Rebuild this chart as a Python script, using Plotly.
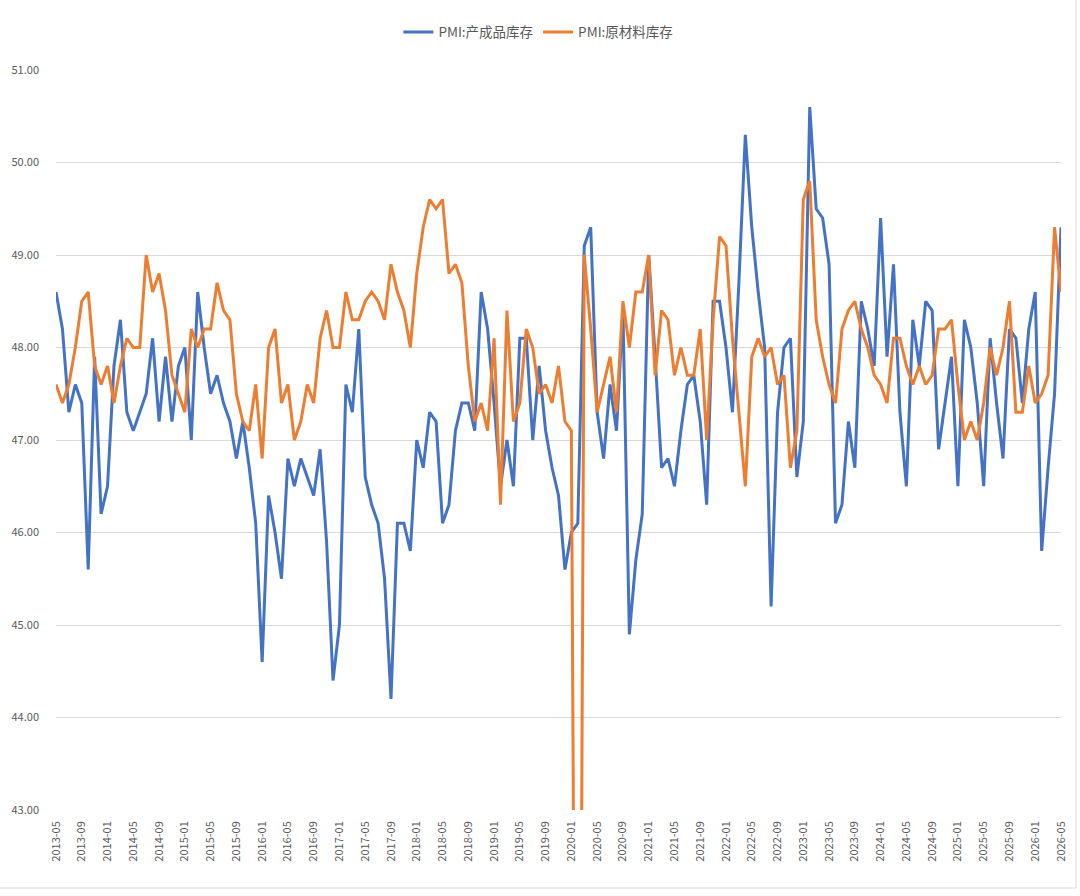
import plotly.graph_objects as go

months = []
y, m = 2013, 5
for _ in range(157):
    months.append(f"{y}-{m:02d}")
    m += 1
    if m > 12:
        m = 1
        y += 1

finished_goods = [
    48.6, 48.2, 47.3, 47.6, 47.4, 45.6, 47.9, 46.2, 46.5, 47.8, 48.3, 47.3, 47.1, 47.3, 47.5, 48.1,
    47.2, 47.9, 47.2, 47.8, 48.0, 47.0, 48.6, 48.0, 47.5, 47.7, 47.4, 47.2, 46.8, 47.2, 46.7, 46.1,
    44.6, 46.4, 46.0, 45.5, 46.8, 46.5, 46.8, 46.6, 46.4, 46.9, 45.9, 44.4, 45.0, 47.6, 47.3, 48.2,
    46.6, 46.3, 46.1, 45.5, 44.2, 46.1, 46.1, 45.8, 47.0, 46.7, 47.3, 47.2, 46.1, 46.3, 47.1, 47.4,
    47.4, 47.1, 48.6, 48.2, 47.4, 46.5, 47.0, 46.5, 48.1, 48.1, 47.0, 47.8, 47.1, 46.7, 46.4, 45.6,
    46.0, 46.1, 49.1, 49.3, 47.3, 46.8, 47.6, 47.1, 48.4, 44.9, 45.7, 46.2, 49.0, 47.9, 46.7, 46.8,
    46.5, 47.1, 47.6, 47.7, 47.2, 46.3, 48.5, 48.5, 48.0, 47.3, 48.7, 50.3, 49.3, 48.6, 48.0, 45.2,
    47.3, 48.0, 48.1, 46.6, 47.2, 50.6, 49.5, 49.4, 48.9, 46.1, 46.3, 47.2, 46.7, 48.5, 48.2, 47.8,
    49.4, 47.9, 48.9, 47.3, 46.5, 48.3, 47.8, 48.5, 48.4, 46.9, 47.4, 47.9, 46.5, 48.3, 48.0, 47.4,
    46.5, 48.1, 47.4, 46.8, 48.2, 48.1, 47.4, 48.2, 48.6, 45.8, 46.7, 47.5, 49.3,
]

raw_materials = [
    47.6, 47.4, 47.6, 48.0, 48.5, 48.6, 47.8, 47.6, 47.8, 47.4, 47.8, 48.1, 48.0, 48.0, 49.0, 48.6,
    48.8, 48.4, 47.7, 47.5, 47.3, 48.2, 48.0, 48.2, 48.2, 48.7, 48.4, 48.3, 47.5, 47.2, 47.1, 47.6,
    46.8, 48.0, 48.2, 47.4, 47.6, 47.0, 47.2, 47.6, 47.4, 48.1, 48.4, 48.0, 48.0, 48.6, 48.3, 48.3,
    48.5, 48.6, 48.5, 48.3, 48.9, 48.6, 48.4, 48.0, 48.8, 49.3, 49.6, 49.5, 49.6, 48.8, 48.9, 48.7,
    47.8, 47.2, 47.4, 47.1, 48.1, 46.3, 48.4, 47.2, 47.4, 48.2, 48.0, 47.5, 47.6, 47.4, 47.8, 47.2,
    47.1, 33.9, 49.0, 48.2, 47.3, 47.6, 47.9, 47.3, 48.5, 48.0, 48.6, 48.6, 49.0, 47.7, 48.4, 48.3,
    47.7, 48.0, 47.7, 47.7, 48.2, 47.0, 48.3, 49.2, 49.1, 48.1, 47.3, 46.5, 47.9, 48.1, 47.9, 48.0,
    47.6, 47.7, 46.7, 47.1, 49.6, 49.8, 48.3, 47.9, 47.6, 47.4, 48.2, 48.4, 48.5, 48.2, 48.0, 47.7,
    47.6, 47.4, 48.1, 48.1, 47.8, 47.6, 47.8, 47.6, 47.7, 48.2, 48.2, 48.3, 47.6, 47.0, 47.2, 47.0,
    47.4, 48.0, 47.7, 48.0, 48.5, 47.3, 47.3, 47.8, 47.4, 47.5, 47.7, 49.3, 48.6,
]

series_names = ["PMI:产成品库存", "PMI:原材料库存"]
tick_labels = months[::4]
y_ticks = [43, 44, 45, 46, 47, 48, 49, 50, 51]

FONT = "Noto Sans CJK SC, Liberation Sans, sans-serif"

fig = go.Figure()
fig.add_trace(go.Scatter(x=months, y=finished_goods, mode="lines", name=series_names[0],
                         line=dict(color="#4472C4", width=3)))
fig.add_trace(go.Scatter(x=months, y=raw_materials, mode="lines", name=series_names[1],
                         line=dict(color="#ED7D31", width=3)))

fig.update_layout(
    width=1080, height=896,
    margin=dict(l=55, r=18, t=70, b=86),
    paper_bgcolor="white", plot_bgcolor="white",
    font=dict(family=FONT, size=11, color="#595959"),
    showlegend=True,
    legend=dict(orientation="h", x=0.48, xanchor="center", y=1.051, yanchor="middle",
                font=dict(size=13.5, color="#595959"), itemwidth=30, tracegroupgap=0),
    shapes=[
        dict(type="line", xref="paper", yref="paper", x0=-0.06, x1=1.015, y0=-0.1054, y1=-0.1054,
             line=dict(color="#d9d9d9", width=1)),
        dict(type="line", xref="paper", yref="paper", x0=1.0149, x1=1.0149, y0=-0.1054, y1=1.1,
             line=dict(color="#d9d9d9", width=1)),
    ],
)
fig.update_xaxes(
    type="category", range=[0, len(months) - 1],
    tickmode="array", tickvals=tick_labels, ticktext=tick_labels,
    tickangle=-90, showgrid=False, showline=False, zeroline=False,
    ticks="", ticklabelstandoff=8,
    tickfont=dict(size=11, color="#595959"),
)
fig.update_yaxes(
    range=[43, 51], tickmode="array", tickvals=y_ticks, tickformat=".2f",
    showgrid=True, gridcolor="#d9d9d9", gridwidth=1, zeroline=False, showline=False,
    ticks="", ticklabelstandoff=16,
    tickfont=dict(size=11, color="#595959"),
)

fig.write_html("out.html")
